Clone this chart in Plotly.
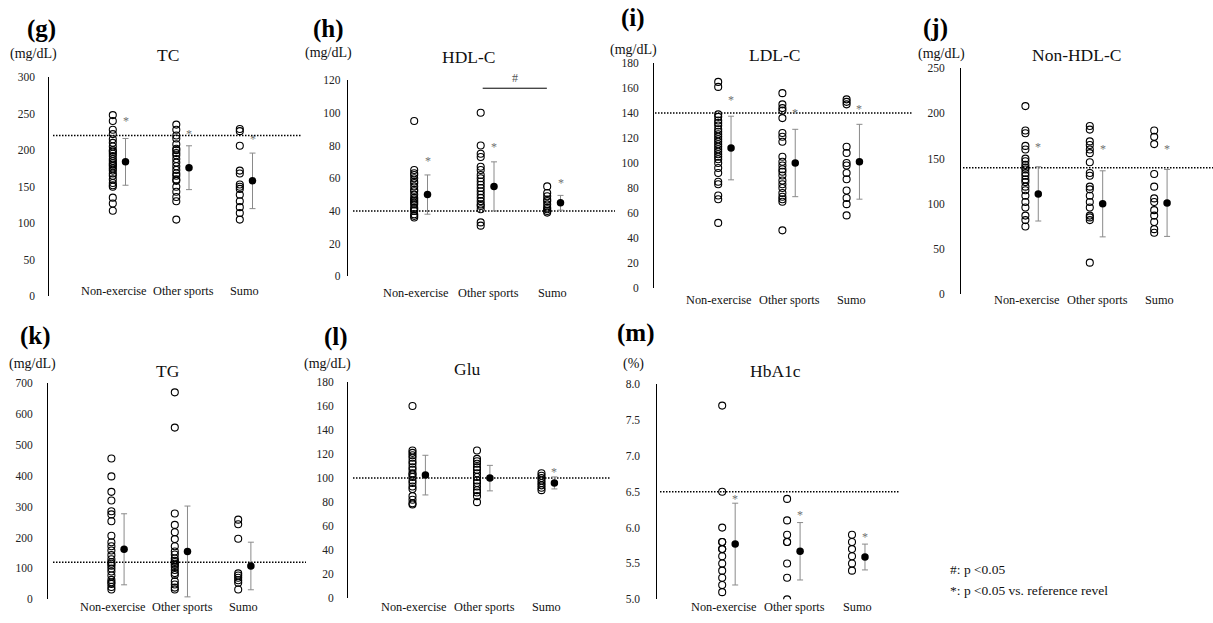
import plotly.graph_objects as go

W, H = 1213, 623
FONT = "Liberation Serif, Times New Roman, serif"

groups = ["Non-exercise", "Other sports", "Sumo"]

# ---------------- data ----------------
# TC (mg/dL)
tc_non = [248, 240, 228, 222, 215, 210, 205, 200, 198, 195, 192, 188, 185, 182, 180,
          178, 175, 172, 168, 165, 160, 155, 152, 150, 135, 127, 117]
tc_other = [235, 228, 220, 216, 208, 202, 200, 196, 193, 188, 183, 178, 173, 168, 165,
            160, 158, 150, 143, 136, 130, 105]
tc_sumo = [229, 226, 206, 172, 168, 153, 150, 147, 139, 130, 122, 114, 105]
tc_mean = [184, 176, 158]
tc_sd = [32, 30, 38]
tc_star = [243, 225, 218]
tc_ref = 220
tc_ticks = ["0", "50", "100", "150", "200", "250", "300"]

# HDL-C (mg/dL)
hdl_non = [95, 65, 63, 62, 60, 58, 57, 55, 53, 52, 50, 48, 47, 46, 45, 44, 42, 41, 40, 38, 37, 36]
hdl_other = [100, 80, 75, 73, 67, 65, 62, 60, 58, 56, 54, 52, 50, 48, 46, 44, 43, 41, 33, 31]
hdl_sumo = [55, 51, 49, 47, 46, 44, 42, 41, 40, 39]
hdl_mean = [50, 55, 45]
hdl_sd = [12, 15, 4.5]
hdl_star = [72, 80, 58]
hdl_ref = 40
hdl_ticks = ["0", "20", "40", "60", "80", "100", "120"]
hdl_sig_pair = [2, 3]      # Other sports vs Sumo, "#"
hdl_sig_level = 115

# LDL-C (mg/dL)
ldl_non = [165, 161, 139, 137, 134, 132, 130, 127, 125, 123, 121, 119, 117, 115, 113, 111,
           109, 107, 105, 103, 100, 96, 92, 85, 83, 74, 71, 52]
ldl_other = [156, 147, 144, 142, 136, 124, 121, 117, 105, 101, 98, 95, 93, 90, 86, 83, 80,
             76, 73, 71, 69, 46]
ldl_sumo = [151, 149, 147, 113, 108, 100, 98, 92, 87, 78, 72, 67, 58]
ldl_mean = [112, 100, 101]
ldl_sd = [25.5, 27, 30]
ldl_star = [152, 142, 145]
ldl_ref = 140
ldl_ticks = ["0", "20", "40", "60", "80", "100", "120", "140", "160", "180"]

# Non-HDL-C (mg/dL)
nhdl_non = [208, 181, 178, 164, 160, 150, 147, 143, 140, 138, 134, 131, 127, 124, 119, 115,
            109, 102, 96, 87, 82, 75]
nhdl_other = [186, 182, 169, 165, 160, 156, 146, 134, 131, 119, 116, 109, 102, 96, 87, 85, 82, 35]
nhdl_sumo = [181, 174, 166, 133, 119, 106, 102, 93, 87, 80, 72, 68]
nhdl_mean = [111, 100, 101]
nhdl_sd = [30, 36.5, 37]
nhdl_star = [165, 163, 163]
nhdl_ref = 140
nhdl_ticks = ["0", "50", "100", "150", "200", "250"]

# TG (mg/dL)
tg_non = [456, 398, 348, 320, 285, 275, 253, 206, 185, 172, 158, 143, 130, 120, 115, 109,
          100, 90, 77, 63, 55, 50, 40, 32]
tg_other = [670, 556, 278, 241, 217, 195, 172, 155, 145, 132, 125, 121, 115, 111, 105, 95,
            85, 79, 58, 48, 38, 32]
tg_sumo = [258, 243, 196, 84, 77, 70, 62, 54, 32]
tg_mean = [162, 155, 108]
tg_sd = [115, 147, 77]
tg_star = [None, None, None]
tg_ref = 120
tg_ticks = ["0", "100", "200", "300", "400", "500", "600", "700"]

# Glu (mg/dL)
glu_non = [160, 123, 121, 119, 117, 114, 112, 109, 107, 104, 103, 101, 98, 96, 93, 91, 85, 82, 79, 78]
glu_other = [123, 116, 114, 112, 109, 107, 104, 101, 98, 96, 93, 90, 88, 85, 80]
glu_sumo = [104, 102, 100, 98, 96, 94, 92, 90]
glu_mean = [102.5, 100, 96]
glu_sd = [16.5, 10.6, 5]
glu_star = [None, None, 107]
glu_ref = 100
glu_ticks = ["0", "20", "40", "60", "80", "100", "120", "140", "160", "180"]

# HbA1c (%)
hba_non = [7.7, 6.5, 6.0, 5.8, 5.8, 5.7, 5.7, 5.6, 5.5, 5.4, 5.3, 5.2, 5.1]
hba_other = [6.4, 6.1, 5.9, 5.8, 5.8, 5.5, 5.3, 5.0]
hba_sumo = [5.9, 5.8, 5.7, 5.6, 5.5, 5.4]
hba_mean = [5.77, 5.67, 5.59]
hba_sd = [0.57, 0.40, 0.18]
hba_star = [6.42, 6.2, 5.9]
hba_ref = 6.5
hba_ticks = ["5.0", "5.5", "6.0", "6.5", "7.0", "7.5", "8.0"]

note_lines = ["#: p <0.05", "*: p <0.05 vs. reference revel"]

# ---------------- layout of the panels (pixel geometry) ----------------
panels = [
    dict(letter="(g)", title="TC", unit="(mg/dL)", data=[tc_non, tc_other, tc_sumo],
         mean=tc_mean, sd=tc_sd, star=tc_star, ref=tc_ref, ticks=tc_ticks,
         x0=49.3, u=63.5, xr=302, yt=72.5, yb=296, ls=53, standoff=11,
         lp=(41, 23), up=(33.7, 49), tp=(168, 50), laby=291),
    dict(letter="(h)", title="HDL-C", unit="(mg/dL)", data=[hdl_non, hdl_other, hdl_sumo],
         mean=hdl_mean, sd=hdl_sd, star=hdl_star, ref=hdl_ref, ticks=hdl_ticks,
         x0=347.7, u=66.5, xr=615, yt=75.5, yb=275.7, ls=353, standoff=4,
         lp=(328, 23), up=(328.3, 48.3), tp=(468.7, 51.7), laby=293),
    dict(letter="(i)", title="LDL-C", unit="(mg/dL)", data=[ldl_non, ldl_other, ldl_sumo],
         mean=ldl_mean, sd=ldl_sd, star=ldl_star, ref=ldl_ref, ticks=ldl_ticks,
         x0=654, u=64.2, xr=912, yt=58.3, yb=287.3, ls=655, standoff=12,
         lp=(633.3, 12.5), up=(633.3, 45), tp=(774.8, 50), laby=300),
    dict(letter="(j)", title="Non-HDL-C", unit="(mg/dL)", data=[nhdl_non, nhdl_other, nhdl_sumo],
         mean=nhdl_mean, sd=nhdl_sd, star=nhdl_star, ref=nhdl_ref, ticks=nhdl_ticks,
         x0=961, u=64.4, xr=1213, yt=63.3, yb=294, ls=963, standoff=13,
         lp=(935.8, 22.5), up=(941.7, 49.3), tp=(1076.3, 50), laby=300),
    dict(letter="(k)", title="TG", unit="(mg/dL)", data=[tg_non, tg_other, tg_sumo],
         mean=tg_mean, sd=tg_sd, star=tg_star, ref=tg_ref, ticks=tg_ticks,
         x0=48, u=63.4, xr=306, yt=384.5, yb=605, ls=53, standoff=12,
         lp=(35.3, 336.7), up=(32, 365), tp=(168, 371.7), laby=613.3),
    dict(letter="(l)", title="Glu", unit="(mg/dL)", data=[glu_non, glu_other, glu_sumo],
         mean=glu_mean, sd=glu_sd, star=glu_star, ref=glu_ref, ticks=glu_ticks,
         x0=348, u=64.5, xr=610, yt=383.3, yb=604, ls=353, standoff=11,
         lp=(335.8, 338), up=(327.8, 365), tp=(467.5, 370), laby=613.3),
    dict(letter="(m)", title="HbA1c", unit="(%)", data=[hba_non, hba_other, hba_sumo],
         mean=hba_mean, sd=hba_sd, star=hba_star, ref=hba_ref, ticks=hba_ticks,
         x0=657.3, u=64.9, xr=900, yt=385.5, yb=605, ls=660, standoff=14,
         lp=(635.8, 333), up=(633, 365), tp=(775.8, 371.7), laby=613.3),
]

MEAN_OFF = 0.2
LABEL_OFF = [0.02, 0.115, 0.08]


def fx(p):
    return p / W


def fy(p):
    return 1 - p / H


fig = go.Figure()
annotations = []
shapes = []
layout = {}

for k, p in enumerate(panels):
    n = "" if k == 0 else str(k + 1)
    xid, yid = "x" + n, "y" + n
    xmax = (p["xr"] - p["x0"]) / p["u"]
    tickvals = [float(t) for t in p["ticks"]]
    ylo, yhi = tickvals[0], tickvals[-1]

    layout["xaxis" + n] = dict(domain=[fx(p["x0"]), fx(p["xr"])], range=[0, xmax],
                               anchor=yid, showline=False, showgrid=False, zeroline=False,
                               showticklabels=False, ticks="", fixedrange=True)
    layout["yaxis" + n] = dict(domain=[fy(p["yb"]), fy(p["yt"])], range=[ylo, yhi],
                               anchor=xid, showline=True, linecolor="black", linewidth=1,
                               showgrid=False, zeroline=False, ticks="",
                               tickmode="array", tickvals=tickvals, ticktext=p["ticks"],
                               ticklabelstandoff=int(p["standoff"]),
                               tickfont=dict(family=FONT, size=11.5, color="#222"),
                               fixedrange=True)

    # individual values (open circles)
    xs, ys = [], []
    for j, vals in enumerate(p["data"]):
        xs += [j + 1] * len(vals)
        ys += vals
    fig.add_trace(go.Scatter(x=xs, y=ys, mode="markers", xaxis=xid, yaxis=yid,
                             marker=dict(symbol="circle-open", size=7, color="black",
                                         line=dict(width=1.1, color="black")),
                             showlegend=False, hoverinfo="skip"))

    # reference line (dotted)
    fig.add_trace(go.Scatter(x=[(p["ls"] - p["x0"]) / p["u"], xmax], y=[p["ref"], p["ref"]],
                             mode="lines", xaxis=xid, yaxis=yid,
                             line=dict(color="black", width=1.5, dash="1.5px,1.5px"),
                             showlegend=False, hoverinfo="skip"))

    # mean +/- SD
    fig.add_trace(go.Scatter(x=[j + 1 + MEAN_OFF for j in range(3)], y=p["mean"],
                             mode="markers", xaxis=xid, yaxis=yid,
                             marker=dict(symbol="circle", size=7.5, color="black"),
                             error_y=dict(type="data", array=p["sd"], visible=True,
                                          color="#8a8a8a", thickness=1, width=3),
                             showlegend=False, hoverinfo="skip"))

    # asterisks
    for j, s in enumerate(p["star"]):
        if s is not None:
            annotations.append(dict(x=j + 1 + MEAN_OFF, y=s, xref=xid, yref=yid, text="*",
                                    showarrow=False, yshift=-2,
                                    font=dict(family=FONT, size=12, color="#707070")))

    # category labels
    for j, g in enumerate(groups):
        annotations.append(dict(x=j + 1 + LABEL_OFF[j], y=fy(p["laby"]), xref=xid, yref="paper",
                                text=g, showarrow=False, xanchor="center", yanchor="middle",
                                font=dict(family=FONT, size=12.3, color="#111")))

    # panel letter, unit, title
    annotations.append(dict(x=fx(p["lp"][0]), y=fy(p["lp"][1]), xref="paper", yref="paper",
                            text="<b>%s</b>" % p["letter"], showarrow=False,
                            xanchor="center", yanchor="middle",
                            font=dict(family=FONT, size=25, color="black")))
    annotations.append(dict(x=fx(p["up"][0]), y=fy(p["up"][1]), xref="paper", yref="paper",
                            text=p["unit"], showarrow=False, xanchor="center", yanchor="middle",
                            font=dict(family=FONT, size=14, color="#111")))
    annotations.append(dict(x=fx(p["tp"][0]), y=fy(p["tp"][1]), xref="paper", yref="paper",
                            text=p["title"], showarrow=False, xanchor="center", yanchor="middle",
                            font=dict(family=FONT, size=17.5, color="#111")))

    if p["title"] == "HDL-C":
        a, b = hdl_sig_pair
        shapes.append(dict(type="line", xref=xid, yref=yid, x0=a + 0.03, x1=b - 0.005,
                           y0=hdl_sig_level, y1=hdl_sig_level,
                           line=dict(color="black", width=1)))
        annotations.append(dict(x=(a + b) / 2 + 0.02, y=hdl_sig_level, xref=xid, yref=yid,
                                text="#", showarrow=False, yshift=10,
                                font=dict(family=FONT, size=12, color="#555")))

# notes
for i, t in enumerate(note_lines):
    annotations.append(dict(x=fx(948.3), y=fy(575 + 20.5 * i), xref="paper", yref="paper",
                            text=t, showarrow=False, xanchor="left", yanchor="middle",
                            font=dict(family=FONT, size=13.5, color="#111")))

fig.update_layout(width=W, height=H, margin=dict(l=0, r=0, t=0, b=0),
                  paper_bgcolor="white", plot_bgcolor="white",
                  annotations=annotations, shapes=shapes, showlegend=False, **layout)

fig.write_html("out.html", config={"displayModeBar": False},
               post_script="document.body.style.margin='0px';")
